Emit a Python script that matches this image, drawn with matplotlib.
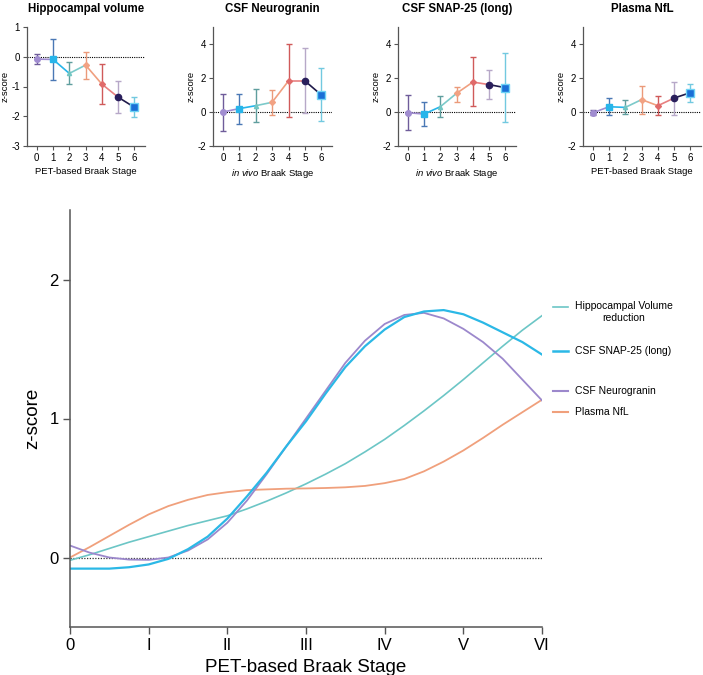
import numpy as np
import matplotlib
matplotlib.use("Agg")
import matplotlib.pyplot as plt
from matplotlib.lines import Line2D

plt.rcParams['font.family'] = ['Liberation Sans', 'DejaVu Sans']
plt.rcParams['mathtext.fontset'] = 'custom'
plt.rcParams['mathtext.it'] = 'Liberation Sans:italic'
plt.rcParams['mathtext.rm'] = 'Liberation Sans'
plt.rcParams['axes.unicode_minus'] = False

# ---- data: small panels (mean, upper and lower end of error bar) ----
stages = [0, 1, 2, 3, 4, 5, 6]

hippo_mean = [-0.08, -0.09, -0.56, -0.28, -0.92, -1.36, -1.70]
hippo_hi = [0.08, 0.61, -0.16, 0.15, -0.25, -0.82, -1.34]
hippo_lo = [-0.25, -0.78, -0.93, -0.75, -1.60, -1.90, -2.04]

ng_mean = [0.00, 0.20, 0.37, 0.57, 1.83, 1.83, 1.00]
ng_hi = [1.08, 1.08, 1.38, 1.32, 3.98, 3.75, 2.60]
ng_lo = [-1.12, -0.73, -0.57, -0.20, -0.28, -0.04, -0.55]

snap_mean = [-0.04, -0.12, 0.31, 1.10, 1.76, 1.61, 1.43]
snap_hi = [0.98, 0.59, 0.96, 1.49, 3.22, 2.45, 3.45]
snap_lo = [-1.06, -0.80, -0.31, 0.59, 0.33, 0.75, -0.57]

nfl_mean = [-0.05, 0.31, 0.27, 0.73, 0.37, 0.82, 1.14]
nfl_hi = [0.10, 0.80, 0.70, 1.55, 0.92, 1.75, 1.63]
nfl_lo = [-0.15, -0.18, -0.12, -0.12, -0.16, -0.18, 0.57]

# ---- data: main panel (fitted curves, read every quarter stage) ----
curve_x = [0, 0.25, 0.5, 0.75, 1, 1.25, 1.5, 1.75, 2, 2.25, 2.5, 2.75, 3,
           3.25, 3.5, 3.75, 4, 4.25, 4.5, 4.75, 5, 5.25, 5.5, 5.75, 6]
hippo_curve = [-0.02, 0.02, 0.065, 0.11, 0.15, 0.19, 0.23, 0.265, 0.30, 0.35,
               0.405, 0.465, 0.53, 0.60, 0.675, 0.76, 0.85, 0.95, 1.055, 1.165,
               1.28, 1.40, 1.52, 1.635, 1.74]
snap_curve = [-0.08, -0.08, -0.08, -0.07, -0.05, -0.01, 0.06, 0.15, 0.28, 0.44,
              0.61, 0.80, 0.98, 1.18, 1.37, 1.52, 1.64, 1.73, 1.77, 1.78,
              1.75, 1.69, 1.62, 1.55, 1.46]
ng_curve = [0.086, 0.035, 0.0, -0.015, -0.017, 0.0, 0.05, 0.13, 0.25, 0.41,
            0.60, 0.80, 1.00, 1.20, 1.40, 1.56, 1.68, 1.745, 1.76, 1.72,
            1.645, 1.55, 1.43, 1.28, 1.13]
nfl_curve = [0.0, 0.075, 0.155, 0.235, 0.31, 0.37, 0.415, 0.45, 0.47, 0.485,
             0.49, 0.495, 0.497, 0.50, 0.505, 0.515, 0.535, 0.565, 0.62, 0.69,
             0.77, 0.86, 0.955, 1.045, 1.135]
roman = ['0', 'I', 'II', 'III', 'IV', 'V', 'VI']

# colours per Braak stage
mk_col = ['#a08cd0', '#27b5ea', '#72c6c2', '#f2a283', '#e06a6a', '#2a1f5c', '#1a6fd6']
mk_edge = ['#a08cd0', '#27b5ea', '#72c6c2', '#f2a283', '#e06a6a', '#2a1f5c', '#6fd3f5']
mk_shape = ['o', 's', '^', 'D', 'D', 'o', 's']
mk_size = [4, 5, 3, 3, 3, 4.5, 5.5]
err_col = ['#6f5c9a', '#4a78b5', '#5f9e9e', '#eb9a7a', '#d05a5a', '#b7a8c8', '#72c9e0']
seg_col = ['#a08cd0', '#27b5ea', '#7ccaca', '#f0a080', '#e88080', '#1f1a4a']

axis_col = '#555555'

fig = plt.figure(figsize=(7.03, 6.75), dpi=100)


def small_panel(rect, title, mean, hi, lo, ylim, yticks, xlabel):
    ax = fig.add_axes(rect)
    ax.axhline(0, color='black', lw=0.8, ls=(0, (1, 1)), zorder=1)
    for i in range(len(stages) - 1):
        ax.plot(stages[i:i + 2], mean[i:i + 2], color=seg_col[i], lw=1.2, zorder=2)
    for i, s in enumerate(stages):
        ax.errorbar(s, mean[i], yerr=[[mean[i] - lo[i]], [hi[i] - mean[i]]],
                    fmt='none', ecolor=err_col[i], elinewidth=1.0, capsize=2.5,
                    capthick=1.0, zorder=3)
        ax.plot(s, mean[i], marker=mk_shape[i], ms=mk_size[i], color=mk_col[i],
                mec=mk_edge[i], mew=1.0, ls='none', zorder=4)
    ax.set_xlim(-0.6, 6.65)
    ax.set_ylim(*ylim)
    ax.set_xticks(stages)
    ax.set_yticks(yticks)
    ax.tick_params(labelsize=7, length=3, width=0.8, color=axis_col, pad=2)
    for sp in ['top', 'right']:
        ax.spines[sp].set_visible(False)
    for sp in ['left', 'bottom']:
        ax.spines[sp].set_color(axis_col)
        ax.spines[sp].set_linewidth(0.9)
    ax.set_title(title, fontsize=8.3, fontweight='bold', pad=11)
    ax.set_ylabel('z-score', fontsize=6.8, labelpad=1)
    ax.set_xlabel(xlabel, fontsize=6.8, labelpad=3)
    return ax


top_b = 1 - 146 / 675
top_h = (146 - 27) / 675
small_panel([27 / 703, top_b, 118 / 703, top_h], 'Hippocampal volume',
            hippo_mean, hippo_hi, hippo_lo, (-3, 1), [1, 0, -1, -2, -3],
            'PET-based Braak Stage')
small_panel([213 / 703, top_b, 119 / 703, top_h], 'CSF Neurogranin',
            ng_mean, ng_hi, ng_lo, (-2, 5), [4, 2, 0, -2],
            r'$\mathit{in\ vivo}$ Braak Stage')
small_panel([398 / 703, top_b, 118 / 703, top_h], 'CSF SNAP-25 (long)',
            snap_mean, snap_hi, snap_lo, (-2, 5), [4, 2, 0, -2],
            r'$\mathit{in\ vivo}$ Braak Stage')
small_panel([583 / 703, top_b, 118 / 703, top_h], 'Plasma NfL',
            nfl_mean, nfl_hi, nfl_lo, (-2, 5), [4, 2, 0, -2],
            'PET-based Braak Stage')

# ---- main panel ----
ax = fig.add_axes([70 / 703, 1 - 627 / 675, 472 / 703, 417 / 675])
ax.axhline(0, color='#333333', lw=0.9, ls=(0, (1, 1.2)), zorder=1)
c_hippo, c_snap, c_ng, c_nfl = '#6cc6c6', '#2bb8e6', '#9c88cc', '#f0a07c'
ax.plot(curve_x, hippo_curve, color=c_hippo, lw=1.2)
ax.plot(curve_x, nfl_curve, color=c_nfl, lw=1.3)
ax.plot(curve_x, ng_curve, color=c_ng, lw=1.3)
ax.plot(curve_x, snap_curve, color=c_snap, lw=1.6)
ax.set_xlim(0, 6)
ax.set_ylim(-0.5, 2.5)
ax.set_xticks(range(7))
ax.set_xticklabels(roman)
ax.set_yticks([0, 1, 2])
ax.tick_params(labelsize=12, length=5, width=1.0, color=axis_col, pad=3)
for sp in ['top', 'right']:
    ax.spines[sp].set_visible(False)
for sp in ['left', 'bottom']:
    ax.spines[sp].set_color(axis_col)
    ax.spines[sp].set_linewidth(1.1)
ax.set_xlabel('PET-based Braak Stage', fontsize=13.5, labelpad=4)
ax.set_ylabel('z-score', fontsize=13.5, labelpad=6)

# legend drawn beside the curves
leg = [('Hippocampal Volume\nreduction', c_hippo, 307, 1.2),
       ('CSF SNAP-25 (long)', c_snap, 351, 1.8),
       ('CSF Neurogranin', c_ng, 391, 1.5),
       ('Plasma NfL', c_nfl, 412, 1.5)]
for lab, col, ypix, lw in leg:
    yf = 1 - ypix / 675
    fig.add_artist(Line2D([553 / 703, 568 / 703], [yf, yf], color=col, lw=lw))
    if '\n' in lab:
        fig.text(575 / 703, yf + 6 / 675, lab, fontsize=7.5, va='top', ha='left',
                 multialignment='center', linespacing=1.25)
    else:
        fig.text(575 / 703, yf, lab, fontsize=7.5, va='center', ha='left')

fig.savefig('out.png', dpi=100)
